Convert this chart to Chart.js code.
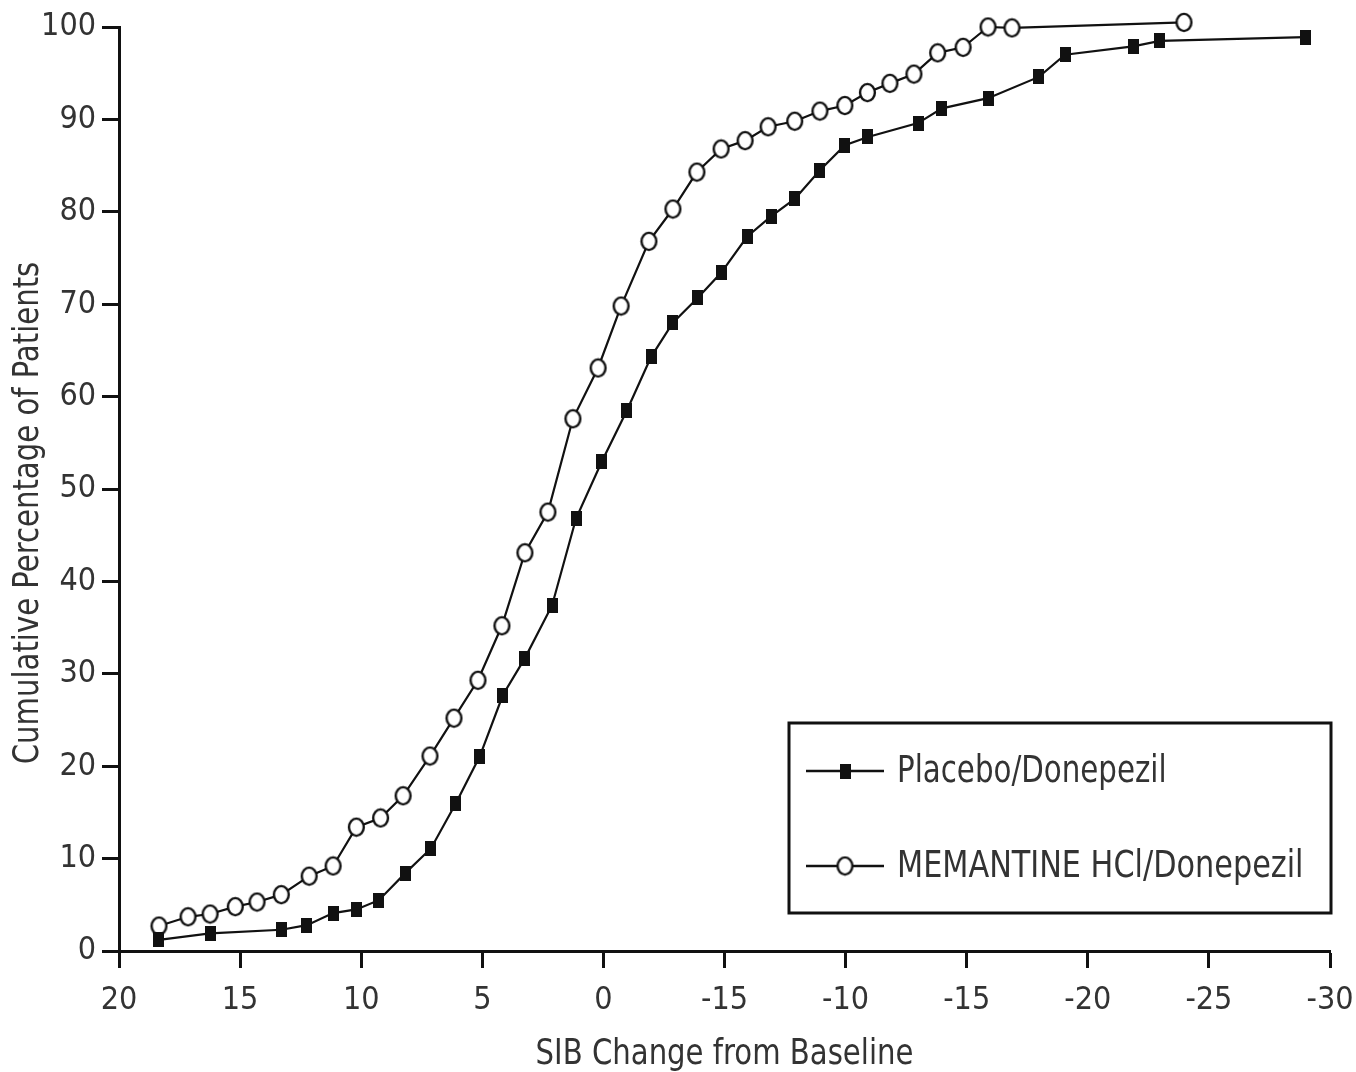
<!DOCTYPE html>
<html><head><meta charset="utf-8">
<script src="https://cdn.jsdelivr.net/npm/chart.js@4"></script>
<style>html,body{margin:0;padding:0;background:#fff;}canvas{display:block}</style>
</head><body>
<canvas id="c" width="1356" height="1072"></canvas>
<script>
const xTickValues = [20, 15, 10, 5, 0, -5, -10, -15, -20, -25, -30];
const xTickLabels = ['20', '15', '10', '5', '0', '-15', '-10', '-15', '-20', '-25', '-30'];
const yTickValues = [0, 10, 20, 30, 40, 50, 60, 70, 80, 90, 100];
const seriesNames = ['Placebo/Donepezil', 'MEMANTINE HCl/Donepezil'];
const xTitle = 'SIB Change from Baseline';
const yTitle = 'Cumulative Percentage of Patients';

const placeboX = [18.35, 16.24, 13.3, 12.24, 11.16, 10.2, 9.27, 8.19, 7.12, 6.09, 5.1, 4.15, 3.24, 2.12, 1.13, 0.06,
  -0.97, -1.97, -2.87, -3.9, -4.86, -5.93, -6.92, -7.9, -8.94, -9.97, -10.92, -12.99, -13.98, -15.88, -17.98, -19.06,
  -21.87, -22.98, -28.97];
const placeboY = [1.2, 1.9, 2.3, 2.8, 4.1, 4.5, 5.5, 8.4, 11.1, 16.0, 21.1, 27.7, 31.7, 37.4, 46.8, 53.0,
  58.5, 64.3, 68.0, 70.7, 73.4, 77.3, 79.5, 81.4, 84.5, 87.2, 88.1, 89.6, 91.2, 92.3, 94.6, 97.0,
  97.9, 98.5, 98.9];

const memantineX = [18.35, 17.15, 16.24, 15.2, 14.3, 13.3, 12.15, 11.16, 10.2, 9.2, 8.27, 7.16, 6.17, 5.18, 4.19, 3.24,
  2.29, 1.26, 0.22, -0.73, -1.88, -2.87, -3.86, -4.86, -5.85, -6.8, -7.9, -8.94, -9.97, -10.9, -11.83, -12.82,
  -13.8, -14.85, -15.88, -16.87, -23.97];
const memantineY = [2.7, 3.7, 4.0, 4.8, 5.3, 6.1, 8.1, 9.2, 13.4, 14.4, 16.8, 21.1, 25.2, 29.3, 35.2, 43.1,
  47.5, 57.6, 63.1, 69.8, 76.8, 80.3, 84.3, 86.8, 87.7, 89.2, 89.8, 90.9, 91.5, 92.9, 93.9, 94.9,
  97.2, 97.8, 100.0, 99.9, 100.5];

const FONT = "'DejaVu Sans Condensed', 'Liberation Sans Narrow', sans-serif";
const INK = '#111';
const TXT = '#333';

function makeSquare() {
  const c = document.createElement('canvas');
  c.width = 11; c.height = 15;
  const g = c.getContext('2d');
  g.fillStyle = INK; g.fillRect(0, 0, 11, 15);
  return c;
}
function makeCircle() {
  const c = document.createElement('canvas');
  c.width = 19; c.height = 21;
  const g = c.getContext('2d');
  g.beginPath(); g.ellipse(9.5, 10.5, 7.4, 8.6, 0, 0, Math.PI * 2);
  g.fillStyle = '#fff'; g.fill();
  g.lineWidth = 2.4; g.strokeStyle = INK; g.stroke();
  return c;
}
const squareImg = makeSquare();
const circleImg = makeCircle();

function squeezedText(ctx, text, x, y, sx) {
  ctx.save();
  ctx.translate(x, y);
  ctx.scale(sx, 1);
  ctx.fillText(text, 0, 0);
  ctx.restore();
}

const extrasPlugin = {
  id: 'extras',
  afterDraw(chart) {
    const ctx = chart.ctx;
    const ca = chart.chartArea;
    ctx.save();
    ctx.fillStyle = TXT;
    // axis titles
    ctx.font = '36px ' + FONT;
    ctx.textAlign = 'center';
    ctx.textBaseline = 'middle';
    squeezedText(ctx, xTitle, (ca.left + ca.right) / 2, 1055, 0.9);
    ctx.save();
    ctx.translate(29, 513);
    ctx.rotate(-Math.PI / 2);
    squeezedText(ctx, yTitle, 0, 0, 0.9);
    ctx.restore();
    // legend box
    const bx = 789, by = 723, bw = 542, bh = 190;
    ctx.lineWidth = 3; ctx.strokeStyle = INK;
    ctx.strokeRect(bx, by, bw, bh);
    const rows = [771, 866];
    chart.data.datasets.forEach((ds, i) => {
      const y = rows[i];
      ctx.beginPath();
      ctx.moveTo(806, y); ctx.lineTo(884, y);
      ctx.lineWidth = 2.5; ctx.strokeStyle = INK; ctx.stroke();
      const img = ds.pointStyle;
      ctx.drawImage(img, 845 - img.width / 2, y - img.height / 2);
      ctx.fillStyle = TXT;
      ctx.font = '37px ' + FONT;
      ctx.textAlign = 'left';
      ctx.textBaseline = 'middle';
      squeezedText(ctx, ds.label, 897, y + 1, i === 0 ? 0.88 : 0.91);
    });
    ctx.restore();
  }
};

new Chart(document.getElementById('c'), {
  type: 'line',
  data: {
    datasets: [
      {
        label: seriesNames[0],
        data: placeboX.map((x, i) => ({ x, y: placeboY[i] })),
        borderColor: INK, borderWidth: 2.2, tension: 0,
        pointStyle: squareImg, pointRadius: 8, clip: false, fill: false
      },
      {
        label: seriesNames[1],
        data: memantineX.map((x, i) => ({ x, y: memantineY[i] })),
        borderColor: INK, borderWidth: 2.2, tension: 0,
        pointStyle: circleImg, pointRadius: 8, clip: false, fill: false
      }
    ]
  },
  options: {
    responsive: false,
    animation: false,
    events: [],
    layout: { padding: { left: 0, top: 27, right: 26, bottom: 0 } },
    plugins: { legend: { display: false }, tooltip: { enabled: false } },
    scales: {
      x: {
        type: 'linear', reverse: true, min: -30, max: 20,
        afterBuildTicks: s => { s.ticks = xTickValues.map(v => ({ value: v })); },
        afterFit: s => { s.height = 121; s.paddingLeft = 0; s.paddingRight = 0; },
        ticks: {
          callback: v => xTickLabels[xTickValues.indexOf(v)],
          font: { family: FONT, size: 32 }, color: TXT, padding: 13,
          maxRotation: 0, autoSkip: false
        },
        grid: { drawOnChartArea: false, tickLength: 17, tickWidth: 3, color: INK },
        border: { width: 3, color: INK }
      },
      y: {
        type: 'linear', min: 0, max: 100,
        afterBuildTicks: s => { s.ticks = yTickValues.map(v => ({ value: v })); },
        afterFit: s => { s.width = 119; s.paddingTop = 0; s.paddingBottom = 0; },
        ticks: {
          font: { family: FONT, size: 32 }, color: TXT, padding: 6, autoSkip: false
        },
        grid: { drawOnChartArea: false, tickLength: 17, tickWidth: 3, color: INK },
        border: { width: 3, color: INK }
      }
    }
  },
  plugins: [extrasPlugin]
});
</script>
</body></html>
